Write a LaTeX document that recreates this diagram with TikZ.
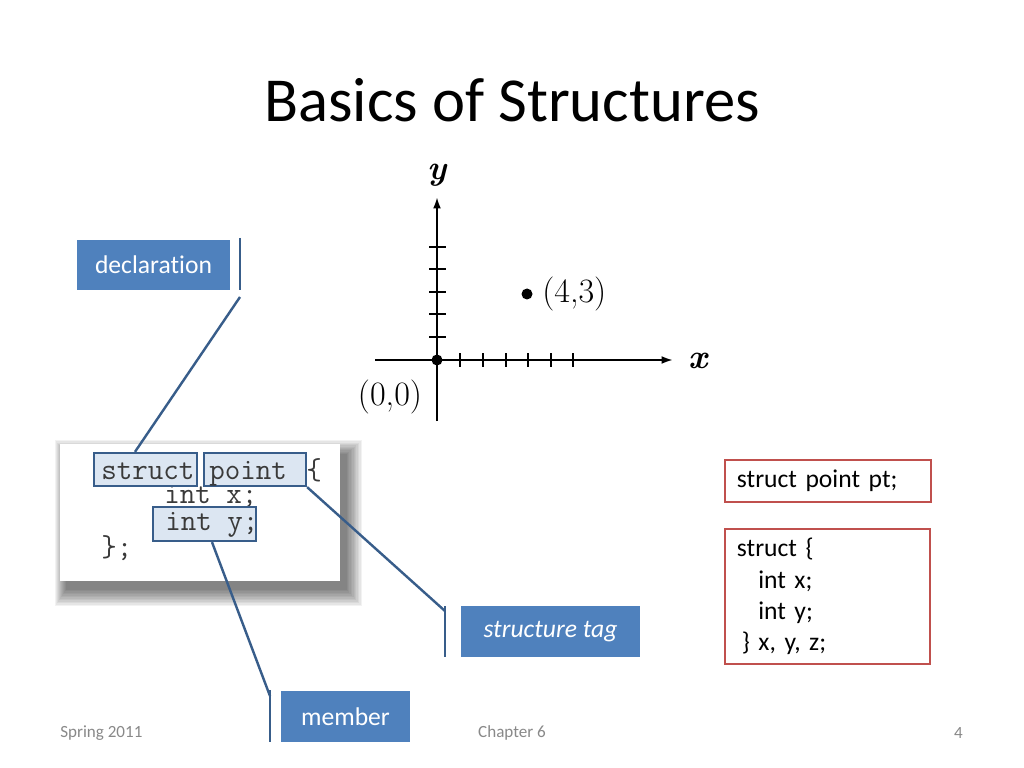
\documentclass[tikz,border=0pt]{standalone}
\usepackage{fontspec}
\setmainfont{Carlito}[Ligatures=NoCommon]
\newfontfamily\graphfont{Latin Modern Roman}
\usetikzlibrary{arrows.meta}
\definecolor{accblue}{HTML}{4F81BD}
\definecolor{linkblue}{HTML}{385D8A}
\definecolor{hlfill}{HTML}{DCE6F2}
\definecolor{redb}{HTML}{C0504D}
\definecolor{footgray}{HTML}{898989}
\definecolor{codegray}{HTML}{3A3A3A}
\begin{document}
\begin{tikzpicture}[x=0.703125pt,y=-0.703125pt,
  label box/.style={fill=accblue, text=white, inner sep=0pt, font=\fontsize{18}{21}\selectfont},
  red box/.style={draw=redb, line width=1.4pt, inner sep=0pt, font=\fontsize{18}{22}\selectfont, text=black},
  hl box/.style={draw=linkblue, fill=hlfill, line width=1.6pt, inner sep=0pt},
  code text/.style={anchor=base west, inner sep=0pt, text=codegray, font=\ttfamily\fontsize{21.2}{24}\selectfont},
  leader/.style={draw=linkblue, line width=1.7pt},
  axis/.style={line width=1.4pt, -{Latex[length=8pt,width=5.5pt]}},
  tick/.style={line width=1.1pt},
  foot/.style={text=footgray, font=\fontsize{12}{14}\selectfont, inner sep=0pt},
  gtext/.style={font=\graphfont\fontsize{24}{28}\selectfont, inner sep=0pt},
  gvar/.style={font=\graphfont\bfseries\itshape\fontsize{24}{28}\selectfont, inner sep=0pt}]
\useasboundingbox[fill=white] (0,0) rectangle (1024,768);

% title
\node[font=\fontsize{44}{50}\selectfont, inner sep=0pt] (title) at (512,100) {Basics of Structures};

% footer
\node[foot, anchor=west] (spring) at (60,733) {Spring 2011};
\node[foot] (chap) at (512,733) {Chapter 6};
\node[foot, anchor=east] (pnum) at (963,733) {4};

% graph
\coordinate (o) at (437,360);
\draw[axis] (437,421) coordinate (ybot) -- (437,197) coordinate (ytop);
\draw[axis] (375,360) coordinate (xleft) -- (673,360) coordinate (xright);
\foreach \tx in {460,483,506,528,551,573} \draw[tick] (\tx,353) -- (\tx,367);
\foreach \ty in {247,269,292,314,337} \draw[tick] (429,\ty) -- (446,\ty);
\fill (o) circle (5.5);
\fill (527,294) coordinate (p) circle (5.5);
\node[gtext, anchor=west] (plab) at (542,294) {(4,3)};
\node[gtext] (olab) at (390,397) {(0,0)};
\node[gvar] (ylab) at (437,175) {y};
\node[gvar] (xlab) at (698,361) {x};

% code picture with soft shadow
\foreach \i in {0,...,11} {
  \fill[black, opacity=0.05]
    ({55+\i*1.0},{440+\i*1.3}) rectangle ({362-\i*1.4},{606-\i*1.5});
}
\node[fill=white, minimum width=280*0.703125pt, minimum height=137*0.703125pt, inner sep=0pt] (code) at (200,512) {};
\node[code text] (intx) at (164,503) {int x;};
\node[hl box, minimum width=103*0.703125pt, minimum height=33*0.703125pt] (kstruct) at (145.5,469.5) {};
\node[hl box, minimum width=102*0.703125pt, minimum height=33*0.703125pt] (kpoint) at (255,469.5) {};
\node[hl box, minimum width=103*0.703125pt, minimum height=34*0.703125pt] (kinty) at (204.5,524) {};
\node[code text] (tstruct) at (101,479) {struct};
\node[code text] (tpoint) at (209,479) {point};
\node[code text] (tbrace) at (306,479) {\{};
\node[code text] (tinty) at (165,530) {int y;};
\node[code text] (tend) at (101,556) {\};};

% labels
\node[label box, minimum width=153*0.703125pt, minimum height=50*0.703125pt] (decl) at (153.5,265) {declaration};
\node[label box, minimum width=179*0.703125pt, minimum height=51*0.703125pt] (tag) at (550.5,631.5) {\itshape structure tag};
\node[label box, minimum width=129*0.703125pt, minimum height=51*0.703125pt] (member) at (345.5,716.5) {member};

% callout accent bars and leaders
\draw[leader] (240,238) -- (240,290);
\coordinate (declend) at (240,297);
\draw[leader] (kstruct.north -| 135,0) -- (declend);
\draw[leader] (445,606) -- (445,657);
\coordinate (tagend) at (445,611);
\draw[leader] (kpoint.south east) -- (tagend);
\draw[leader] (270,690) -- (270,742);
\coordinate (memend) at (270,696);
\draw[leader] (kinty.south -| 212,0) -- (memend);

% red boxes
\node[red box, minimum width=206*0.703125pt, minimum height=42*0.703125pt, anchor=west, inner xsep=8.4pt, text width=206*0.703125pt-16.8pt, align=left] (pt) at (724,481) {struct point pt;};
\node[red box, minimum width=205*0.703125pt, minimum height=135*0.703125pt, anchor=north west, inner xsep=8.4pt, text width=205*0.703125pt-16.8pt, align=left] (anon) at (724,528)
  {struct \{\\ \hspace*{15pt}int x;\\ \hspace*{15pt}int y;\\ \hspace*{3.5pt}\} x, y, z;};
\end{tikzpicture}
\end{document}
